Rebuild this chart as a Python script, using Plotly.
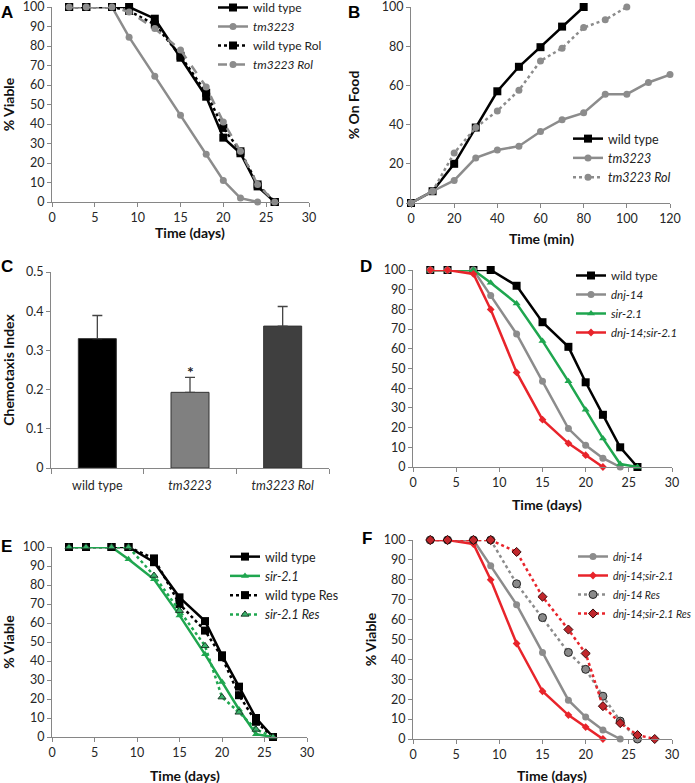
import plotly.graph_objects as go

W, H = 695, 783

# ---- data ----
days_a = [2, 4, 7, 9, 12, 15, 18, 20, 22, 24, 26]
a_wt = [100, 100, 100, 100, 94, 74, 54, 33, 25, 8, 0]
a_tm_days = [2, 4, 7, 9, 12, 15, 18, 20, 22, 24]
a_tm = [100, 100, 100, 84.5, 64.5, 44.5, 24.5, 11, 2, 0]
a_wt_rol = [100, 100, 100, 98, 91, 75, 56, 38, 26, 9, 0]
a_tm_rol = [100, 100, 100, 97.5, 89, 78, 59, 41, 26, 9, 0]

b_wt_min = [0, 10, 20, 30, 40, 50, 60, 70, 80]
b_wt = [0, 6, 20, 38.5, 57, 69.5, 79.5, 90, 100]
b_tm_min = [0, 10, 20, 30, 40, 50, 60, 70, 80, 90, 100, 110, 120]
b_tm = [0, 6, 11.5, 23, 27, 29, 36.5, 42.5, 46, 55.5, 55.5, 61.5, 65.5]
b_rol_min = [0, 10, 20, 30, 40, 50, 60, 70, 80, 90, 100]
b_rol = [0, 6, 25.5, 38.5, 47, 57.5, 72.5, 79, 89.5, 93.5, 100]

c_cats = ["wild type", "<i>tm3223</i>", "<i>tm3223 Rol</i>"]
c_vals = [0.33, 0.193, 0.362]
c_err = [0.059, 0.038, 0.05]

days = [2, 4, 7, 9, 12, 15, 18, 20, 22, 24, 26]
d_wt = [100, 100, 100, 100, 92, 73.5, 61, 43, 26.5, 10, 0]
d_dnj_days = [2, 4, 7, 9, 12, 15, 18, 20, 22, 24]
d_dnj = [100, 100, 100, 87, 67.5, 43.5, 19.5, 11, 4.5, 0]
d_sir = [100, 100, 100, 93.5, 83, 64, 43.5, 29, 14.5, 1.5, 0]
d_dbl_days = [2, 4, 7, 9, 12, 15, 18, 20, 22]
d_dbl = [100, 100, 98, 80, 48, 24, 12, 6, 0]

e_wt_res = [100, 100, 100, 100, 94, 70, 56, 42, 22, 8, 0]
e_sir_res = [100, 100, 100, 100, 85, 66.5, 48, 21, 13, 4, 0]

f_dnj_res = [100, 100, 100, 100, 78, 61, 43.5, 35, 21.5, 9, 0]
f_dbl_days = [2, 4, 7, 9, 12, 15, 18, 20, 22, 24, 26, 28]
f_dbl_res = [100, 100, 100, 100, 94, 71.5, 55, 43, 16.5, 8, 2, 0]

BLACK = "#000000"
GRAY = "#8c8c8c"
GREEN = "#1fa64f"
RED = "#e8242b"
AXC = "#868686"
FONT = "Lato, Open Sans, sans-serif"

fig = go.Figure()


def px(x, y):
    return x / W, 1 - y / H


def px_dom(x0, x1, y0, y1):
    return [x0 / W, x1 / W], [1 - y1 / H, 1 - y0 / H]


panels = {
    # name: (x0, x1, ytop, ybottom)
    "A": (52, 309, 7, 202),
    "B": (411, 670, 7, 203),
    "C": (51, 329, 272, 468),
    "D": (413, 672, 270, 467),
    "E": (52, 307, 547, 737),
    "F": (413, 672, 540, 739),
}
axid = {"A": "", "B": "2", "C": "3", "D": "4", "E": "5", "F": "6"}


def line(x, y, name, color, sym, size, dash="solid", width=2.5, panel="A",
         mcolor=None, mline=None, legend="legend"):
    k = axid[panel]
    fig.add_trace(go.Scatter(
        x=x, y=y, name=name, mode="lines+markers",
        line=dict(color=color, width=width, dash=dash),
        marker=dict(symbol=sym, size=size, color=mcolor or color,
                    line=dict(color=mline or (mcolor or color), width=1 if mline else 0)),
        xaxis="x" + k, yaxis="y" + k, cliponaxis=False, legend=legend))


# A
line(days_a, a_wt, "wild type", BLACK, "square", 8, panel="A", legend="legend")
line(a_tm_days, a_tm, "<i>tm3223</i>", GRAY, "circle", 7, panel="A", legend="legend")
line(days_a, a_wt_rol, "wild type Rol", BLACK, "square", 8, dash="dot", panel="A", legend="legend")
line(days_a, a_tm_rol, "<i>tm3223 Rol</i>", GRAY, "circle", 7, dash="dash", panel="A", legend="legend")

# B
line(b_wt_min, b_wt, "wild type", BLACK, "square", 8, panel="B", legend="legend2")
line(b_tm_min, b_tm, "<i>tm3223</i>", GRAY, "circle", 7, panel="B", legend="legend2")
line(b_rol_min, b_rol, "<i>tm3223 Rol</i>", GRAY, "circle", 7, dash="dot", panel="B", legend="legend2")

# C
fig.add_trace(go.Bar(
    x=c_cats, y=c_vals, width=0.41,
    marker=dict(color=["#000000", "#808080", "#3f3f3f"], line=dict(color="#333333", width=1)),
    error_y=dict(type="data", array=c_err, arrayminus=[0, 0, 0], color="#444444",
                 thickness=1.3, width=5),
    xaxis="x3", yaxis="y3", showlegend=False))
fig.add_annotation(x=c_cats[1], y=0.245, text="<b>*</b>", showarrow=False,
                   xref="x3", yref="y3", font=dict(size=16, color="#222", family=FONT))

# D
line(days, d_wt, "wild type", BLACK, "square", 8, panel="D", legend="legend3")
line(d_dnj_days, d_dnj, "<i>dnj-14</i>", GRAY, "circle", 7, panel="D", legend="legend3")
line(days, d_sir, "<i>sir-2.1</i>", GREEN, "triangle-up", 7, panel="D", legend="legend3")
line(d_dbl_days, d_dbl, "<i>dnj-14;sir-2.1</i>", RED, "diamond", 6, panel="D", legend="legend3")

# E
line(days, d_wt, "wild type", BLACK, "square", 8, panel="E", legend="legend4")
line(days, d_sir, "<i>sir-2.1</i>", GREEN, "triangle-up", 7, panel="E", legend="legend4")
line(days, e_wt_res, "wild type Res", BLACK, "square", 8, dash="dot", panel="E", legend="legend4")
line(days, e_sir_res, "<i>sir-2.1 Res</i>", GREEN, "triangle-up", 7, dash="dot", panel="E",
     mcolor="#39b36a", mline="#1d3d2a", legend="legend4")

# F
line(d_dnj_days, d_dnj, "<i>dnj-14</i>", GRAY, "circle", 7, panel="F", legend="legend5")
line(d_dbl_days, d_dbl, "<i>dnj-14;sir-2.1</i>", RED, "diamond", 6, panel="F", legend="legend5")
line(days, f_dnj_res, "<i>dnj-14 Res</i>", GRAY, "circle", 8, dash="dot", panel="F",
     mcolor="#8a8a8a", mline="#222222", legend="legend5")
line(f_dbl_days, f_dbl_res, "<i>dnj-14;sir-2.1 Res</i>", RED, "diamond", 7, dash="dot", panel="F",
     mcolor="#c0262b", mline="#3a0a0a", legend="legend5")

tickfont = dict(size=12.5, color="#262626", family=FONT)
titlefont = dict(size=14, color="#111", family=FONT)


def axes(panel, xr, xd, yr, yd, ytitle=None, ystand=8, ycat=False):
    x0, x1, yt, yb = panels[panel]
    dx, dy = px_dom(x0, x1, yt, yb)
    k = axid[panel]
    common = dict(showline=True, linecolor=AXC, linewidth=1, ticks="outside",
                  ticklen=4, tickcolor=AXC, showgrid=False, zeroline=False,
                  tickfont=tickfont, fixedrange=True, automargin=False,
                  ticklabeloverflow="allow")
    xa = dict(domain=dx, anchor="y" + k, **common)
    if ycat:
        xa.update(type="category", tickson="boundaries", ticklen=5, ticklabelstandoff=6)
    else:
        xa.update(range=xr, dtick=xd, tick0=0)
    ya = dict(domain=dy, anchor="x" + k, range=yr, dtick=yd, tick0=0, **common)
    if ytitle:
        ya["title"] = dict(text="<b>%s</b>" % ytitle, font=titlefont, standoff=ystand)
    fig.update_layout(**{"xaxis" + k: xa, "yaxis" + k: ya})


axes("A", [0, 30], 5, [0, 100], 10, "% Viable", 10)
axes("B", [0, 120], 20, [0, 100], 20, "% On Food", 18)
axes("C", None, None, [0, 0.5], 0.1, "Chemotaxis Index", 14, ycat=True)
axes("D", [0, 30], 5, [0, 100], 10, None)
axes("E", [0, 30], 5, [0, 100], 10, "% Viable", 10)
axes("F", [0, 30], 5, [0, 100], 10, "% Viable", 3)

# x-axis titles placed as paper annotations
xtitles = [("Time (days)", 190, 233), ("Time (min)", 541, 238), ("Time (days)", 547, 504),
           ("Time (days)", 185, 775), ("Time (days)", 552, 775)]
for txt, x, y in xtitles:
    lx, ly = px(x, y)
    fig.add_annotation(x=lx, y=ly, xref="paper", yref="paper", xanchor="center",
                       yanchor="middle", text="<b>%s</b>" % txt, showarrow=False,
                       font=titlefont)


def leg(x, y, size=12.5):
    lx, ly = px(x, y)
    return dict(x=lx, y=ly, xanchor="left", yanchor="top",
                bgcolor="rgba(0,0,0,0)", tracegroupgap=0, itemwidth=30,
                font=dict(size=size, color="#222", family=FONT))


fig.update_layout(
    legend=leg(213, -7, 12),
    legend2=leg(568, 124),
    legend3=leg(571, 261, 11.5),
    legend4=leg(225, 542),
    legend5=leg(573, 542, 10.5),
)

letters = {"A": (7, 12), "B": (354, 12), "C": (7, 266),
           "D": (366, 266), "E": (7, 546), "F": (367, 538)}
for letter, (x, y) in letters.items():
    lx, ly = px(x, y)
    fig.add_annotation(x=lx, y=ly, xref="paper", yref="paper", xanchor="center",
                       yanchor="middle", text="<b>%s</b>" % letter, showarrow=False,
                       font=dict(size=17, color="#000", family="Liberation Sans, Arial"))

fig.update_layout(
    width=W, height=H, margin=dict(l=0, r=0, t=0, b=0, autoexpand=False),
    plot_bgcolor="white", paper_bgcolor="white", showlegend=True,
)

# the page's default body margin would push the figure 8px in; drop it
fig.write_html("out.html", config={"displayModeBar": False},
               post_script="document.body.style.margin='0px';")
